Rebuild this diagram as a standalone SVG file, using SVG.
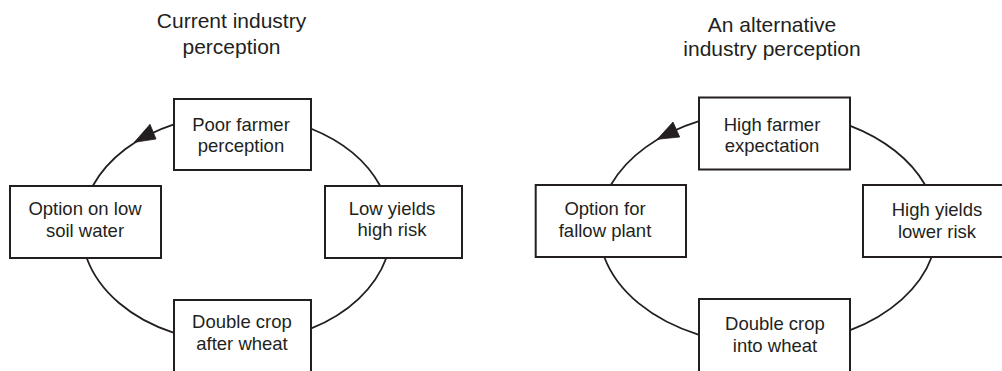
<svg xmlns="http://www.w3.org/2000/svg" width="1002" height="371" viewBox="0 0 1002 371">
  <style>
    .box { fill: #ffffff; stroke: #231f20; stroke-width: 2; }
    .arc { fill: none; stroke: #231f20; stroke-width: 1.8; }
    .head { fill: #231f20; stroke: #231f20; stroke-width: 0.8; stroke-linejoin: miter; }
    .lbl { font-family: "Liberation Sans", Arial, sans-serif; font-size: 18.5px; fill: #231f20; text-anchor: middle; }
    .ttl { font-family: "Liberation Sans", Arial, sans-serif; font-size: 21px; fill: #231f20; text-anchor: middle; }
  </style>
  <rect width="1002" height="371" fill="#ffffff"/>

  <g id="titles">
    <text class="ttl" x="231.5" y="28">Current industry</text>
    <text class="ttl" x="231.5" y="53.5">perception</text>
    <text class="ttl" x="772" y="31.5">An alternative</text>
    <text class="ttl" x="772" y="55.5">industry perception</text>
  </g>

  <g id="connectors">
    <!-- left cycle: ellipse centre (236.5,228.6) rx 155 ry 114 -->
    <path class="arc" d="M174,124.3 A155,114 0 0 0 92.7,186"/>
    <polygon class="head" points="134.3,142.3 150,124.3 156,139"/>
    <path class="arc" d="M86.7,258 A155,114 0 0 0 174,332.9"/>
    <path class="arc" d="M310.7,328.7 A155,114 0 0 0 386.3,258"/>
    <path class="arc" d="M380.3,186 A155,114 0 0 0 310.7,128.5"/>
    <!-- right cycle: ellipse centre (768,228) rx 169 ry 117 -->
    <path class="arc" d="M699,121.2 A169,117 0 0 0 610.8,185"/>
    <polygon class="head" points="657.3,139.3 673,122 679.7,137"/>
    <path class="arc" d="M604.3,257 A169,117 0 0 0 699,334.8"/>
    <path class="arc" d="M849.7,330.4 A169,117 0 0 0 931.7,257"/>
    <path class="arc" d="M925.2,185 A169,117 0 0 0 849.7,125.6"/>
  </g>

  <g id="node-poor-farmer">
    <rect class="box" x="174" y="99" width="137" height="71"/>
    <text class="lbl" x="241" y="131">Poor farmer</text>
    <text class="lbl" x="241" y="152">perception</text>
  </g>
  <g id="node-option-low-soil">
    <rect class="box" x="10" y="186" width="151" height="72"/>
    <text class="lbl" x="85" y="215">Option on low</text>
    <text class="lbl" x="85" y="236.5">soil water</text>
  </g>
  <g id="node-low-yields">
    <rect class="box" x="325" y="186" width="137" height="72"/>
    <text class="lbl" x="392" y="215">Low yields</text>
    <text class="lbl" x="392" y="236">high risk</text>
  </g>
  <g id="node-double-crop-after">
    <rect class="box" x="174" y="300" width="137" height="76"/>
    <text class="lbl" x="242" y="328">Double crop</text>
    <text class="lbl" x="242" y="349.5">after wheat</text>
  </g>

  <g id="node-high-farmer">
    <rect class="box" x="699" y="97.5" width="151" height="72"/>
    <text class="lbl" x="772" y="130.5">High farmer</text>
    <text class="lbl" x="772" y="151.5">expectation</text>
  </g>
  <g id="node-option-fallow">
    <rect class="box" x="535.7" y="185" width="150.3" height="72"/>
    <text class="lbl" x="605" y="215">Option for</text>
    <text class="lbl" x="605" y="236.5">fallow plant</text>
  </g>
  <g id="node-high-yields">
    <rect class="box" x="863" y="185" width="150" height="72"/>
    <text class="lbl" x="937" y="216">High yields</text>
    <text class="lbl" x="937" y="237.5">lower risk</text>
  </g>
  <g id="node-double-crop-into">
    <rect class="box" x="699" y="299" width="151" height="77"/>
    <text class="lbl" x="775" y="330">Double crop</text>
    <text class="lbl" x="775" y="351.5">into wheat</text>
  </g>
</svg>
